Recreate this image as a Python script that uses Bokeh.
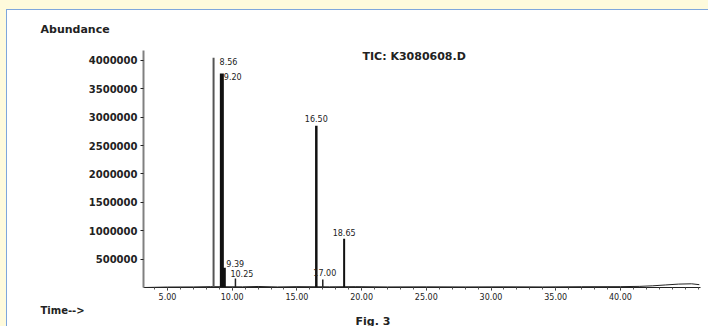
from bokeh.plotting import figure
from bokeh.models import (Label, FixedTicker, PrintfTickFormatter,
                          NumeralTickFormatter, ColumnDataSource, Range1d, Title)
from bokeh.core.properties import value
from bokeh.embed import file_html
from bokeh.resources import INLINE

# ---------------- data ----------------
peak_times = [8.56, 9.20, 9.39, 10.25, 16.50, 17.00, 18.65]
peak_heights = [4050000, 3770000, 350000, 160000, 2850000, 140000, 860000]
peak_labels = ["8.56", "9.20", "9.39", "10.25", "16.50", "17.00", "18.65"]

baseline_times = [3.2, 5.0, 7.0, 8.3, 10.8, 12.0, 13.5, 15.0, 17.5, 19.5, 22.0, 25.0,
                  28.0, 31.0, 34.0, 37.0, 40.0, 41.5, 42.5, 43.5, 44.5, 45.5, 46.1]
baseline_values = [0, 8000, 10000, 15000, 12000, 18000, 10000, 15000, 12000, 15000,
                   10000, 12000, 10000, 12000, 10000, 14000, 15000, 20000, 30000,
                   45000, 60000, 65000, 50000]

y_ticks = [500000, 1000000, 1500000, 2000000, 2500000, 3000000, 3500000, 4000000]
x_ticks = [5, 10, 15, 20, 25, 30, 35, 40]
x_minor_ticks = list(range(4, 47))
y_title = "Abundance"
x_title = "Time-->"
trace_name = "TIC: K3080608.D"
caption = "Fig. 3"

# ---------------- layout / styles ----------------
W, H = 708, 326
FL, FR, FT, FB = 143, 8, 50, 39
X0, X1 = 3.145, 46.19
Y0, Y1 = 0, 4176000
INK = "#222222"
FONT = "DejaVu Sans"

p = figure(width=W, height=H, output_backend="svg", toolbar_location=None,
           x_range=Range1d(X0, X1), y_range=Range1d(Y0, Y1),
           min_border_left=FL, min_border_right=FR, min_border_top=FT, min_border_bottom=FB)
p.background_fill_color = "white"
p.border_fill_color = None
p.outline_line_color = None
p.grid.visible = False
p.styles = {"background-color": "white",
            "box-shadow": "inset 6px 9px 0 0 #fefadc, inset 7px 10px 0 0 #7ea6dc"}

# axes
xa = p.xaxis[0]
xa.ticker = FixedTicker(ticks=x_ticks, minor_ticks=x_minor_ticks)
xa.formatter = PrintfTickFormatter(format="%.2f")
xa.axis_line_color = INK
xa.major_tick_in = 0
xa.major_tick_out = 3
xa.minor_tick_in = 0
xa.minor_tick_out = 2
xa.major_tick_line_color = INK
xa.minor_tick_line_color = "#555555"
xa.major_label_text_font = FONT
xa.major_label_text_font_size = "8px"
xa.major_label_text_color = INK
xa.major_label_standoff = 2

ya = p.yaxis[0]
ya.ticker = FixedTicker(ticks=y_ticks)
ya.formatter = NumeralTickFormatter(format="0")
ya.axis_line_color = "#808080"
ya.axis_line_width = 2
ya.major_tick_in = 0
ya.major_tick_out = 3
ya.minor_tick_line_color = None
ya.major_tick_line_color = INK
ya.major_label_text_font = FONT
ya.major_label_text_font_style = "bold"
ya.major_label_text_font_size = "10px"
ya.major_label_text_color = INK
ya.major_label_standoff = 3

# titles outside the frame
p.title.text = y_title
p.title.align = "left"
p.title.offset = -103
p.title.standoff = 30
p.title.text_font = FONT
p.title.text_font_style = "bold"
p.title.text_font_size = "11px"
p.title.text_color = INK

t1 = Title(text=x_title, align="left", offset=-103, standoff=0, text_font=FONT,
           text_font_style="bold", text_font_size="10px", text_color=INK, text_line_height=1.0)
t2 = Title(text=caption, align="left", offset=212, standoff=-4, vertical_align="middle",
           text_font=FONT, text_font_style="bold", text_font_size="11px", text_color=INK,
           text_line_height=0.8)
p.add_layout(t1, "below")
p.add_layout(t2, "below")

# baseline trace
p.line(baseline_times, baseline_values, line_color=INK, line_width=1)

# peaks
peak_colors = ["#555555", "#111111", "#111111", INK, "#111111", INK, "#111111"]
peak_widths = [2, 4, 3, 1.5, 2.5, 1.5, 2]
src = ColumnDataSource(dict(t=peak_times, h=peak_heights, z=[0] * len(peak_times),
                            c=peak_colors, w=peak_widths))
p.segment(x0="t", y0="z", x1="t", y1="h", line_color="c", line_width="w", source=src)

# peak labels
left_idx, left_dx, left_dy = [0, 1, 2, 3], [6, 2, 2, -5], [4, 3, -4, -5]
ctr_idx, ctr_dx, ctr_dy = [4, 5, 6], [0, 2, 0], [-7, -7, -6]

def sub(idx, dx, dy):
    return ColumnDataSource(dict(t=[peak_times[i] for i in idx], h=[peak_heights[i] for i in idx],
                                 lab=[peak_labels[i] for i in idx], dx=dx, dy=dy))

for idx, dx, dy, al in [(left_idx, left_dx, left_dy, "left"), (ctr_idx, ctr_dx, ctr_dy, "center")]:
    p.text(x="t", y="h", text="lab", x_offset="dx", y_offset="dy", source=sub(idx, dx, dy),
           text_align=al, text_baseline="middle", text_font_size="8px", text_color=INK,
           text_font=value(FONT))

# trace name inside the frame, placed by canvas pixel position
def dx_(px):
    return X0 + (px - FL) / (W - FL - FR) * (X1 - X0)

def dy_(py):
    return Y0 + (H - FB - py) / (H - FT - FB) * (Y1 - Y0)

p.add_layout(Label(x=dx_(362), y=dy_(56), text=trace_name, text_font=FONT,
                   text_font_style="bold", text_font_size="11px", text_color=INK,
                   text_align="left", text_baseline="middle"))

open("out.html", "w").write(file_html(p, INLINE))
